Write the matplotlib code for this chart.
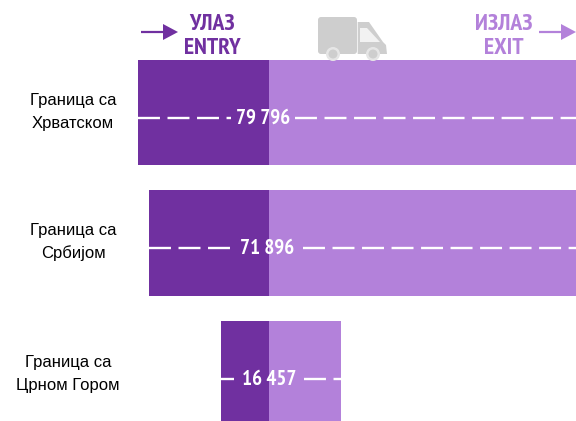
import matplotlib
matplotlib.use("Agg")
import matplotlib.pyplot as plt
from matplotlib.patches import Polygon, Circle, FancyBboxPatch

# granicni prelazi
categories = ["Граница са\nХрватском", "Граница са\nСрбијом", "Граница са\nЦрном Гором"]
entry = [17970, 16460, 6580]
exit_ = [61826, 55436, 9877]
totals = ["79 796", "71 896", "16 457"]

DARK = "#7030a0"
LIGHT = "#b381da"
GREY = "#cecece"
NARROW = ["PT Sans Narrow", "Roboto Condensed", "Liberation Sans", "DejaVu Sans"]
REG = ["Liberation Sans", "DejaVu Sans"]

fig = plt.figure(figsize=(5.76, 4.21), dpi=100)

# bar axes : the zero sits at the entry/exit border, the right part is cut by the figure
ax = fig.add_axes([0, 0, 1, 1])
ax.set_xlim(-36891, 42102)
ax.set_ylim(2.364, -0.862)
ax.axis("off")

rows = range(len(categories))
ax.barh(rows, [-v for v in entry], height=0.805, color=DARK)
ax.barh(rows, exit_, height=0.805, color=LIGHT)

# white dashed line, broken around the number
gaps = [(-5200, 3500), (-5200, 4600), (-4800, 4800)]
offs = [0.045, 0.037, 0.045]
for i, (g0, g1) in enumerate(gaps):
    y = i + offs[i]
    ax.plot([-entry[i], g0], [y, y], color="white", lw=1.7, dashes=(9.3, 3.2), dash_capstyle="butt")
    ax.plot([g1, exit_[i]], [y, y], color="white", lw=1.7, dashes=(9.3, 3.2), dash_capstyle="butt")
    ax.text((g0 + g1) / 2, y, totals[i], color="white", fontsize=15, fontweight="bold",
            family=NARROW, ha="center", va="center")

# overlay in pixels for the header, labels and truck
ov = fig.add_axes([0, 0, 1, 1])
ov.set_xlim(0, 576)
ov.set_ylim(421, 0)
ov.axis("off")
ov.patch.set_alpha(0)

label_pos = [(73, 112), (73, 242), (68, 374)]
for (lx, ly), c in zip(label_pos, categories):
    ov.text(lx, ly, c, fontsize=12, family=REG, color="#000000", ha="center", va="center", linespacing=1.6)

ov.text(212, 25, "УЛАЗ", color=DARK, fontsize=17, fontweight="bold", family=NARROW, ha="center", va="center")
ov.text(212, 49, "ENTRY", color=DARK, fontsize=17, fontweight="bold", family=NARROW, ha="center", va="center")
ov.text(504, 25, "ИЗЛАЗ", color=LIGHT, fontsize=17, fontweight="bold", family=NARROW, ha="center", va="center")
ov.text(504, 49, "EXIT", color=LIGHT, fontsize=17, fontweight="bold", family=NARROW, ha="center", va="center")

# arrows
for x0, col in [(141, DARK), (539, LIGHT)]:
    ov.plot([x0, x0 + 24], [32, 32], color=col, lw=1.6, solid_capstyle="butt")
    ov.add_patch(Polygon([(x0 + 22, 24), (x0 + 22, 40), (x0 + 37, 32)], color=col, lw=0))

# truck
ov.add_patch(FancyBboxPatch((318, 17), 39, 37, boxstyle="round,pad=0,rounding_size=3", fc=GREY, ec="none"))
ov.add_patch(Polygon([(357.7, 22), (369, 22), (383, 42), (386, 45), (387, 54), (357.7, 54)], fc=GREY, ec="none"))
ov.add_patch(Polygon([(360, 28), (367, 28), (380, 42), (360, 42)], fc="#f2f2f2", ec="none"))
for wx in (333, 373):
    ov.add_patch(Circle((wx, 54), 7, fc="#e6e6e6", ec="none", zorder=3))
    ov.add_patch(Circle((wx, 54), 4.5, fc=GREY, ec="none", zorder=4))

fig.savefig("out.png", dpi=100)
